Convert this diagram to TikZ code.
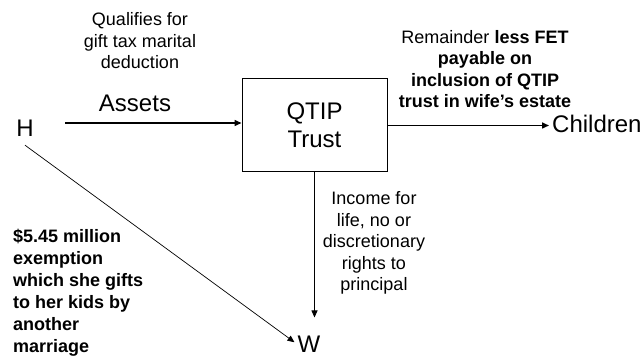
\documentclass[tikz,border=0pt]{standalone}
\usepackage{fontspec}
\setmainfont{Liberation Sans}
\usetikzlibrary{arrows.meta}
\begin{document}
\begin{tikzpicture}[x=1pt,y=-1pt,
  big/.style={font=\fontsize{24}{28}\selectfont, inner sep=3pt},
  note/.style={font=\fontsize{18}{21.5}\selectfont, align=center, inner sep=0pt},
  arr/.style={-{Triangle[length=7pt,width=6pt]}},
  thick arrow/.style={arr, line width=1.5pt},
  thin arrow/.style={arr, line width=0.8pt}
]
\useasboundingbox (0,0) rectangle (643,358);
\node[draw, line width=1pt, minimum width=145pt, minimum height=93pt, big, align=center] (box) at (314.5,125.5) {QTIP\\Trust};
\node[big, anchor=base] (H) at (25,137) {H};
\node[big, anchor=base west] (C) at (549,133) {Children};
\node[big, anchor=base, inner sep=1pt] (W) at (309,352.5) {W};
\node[big, anchor=base] (assets) at (135,112) {Assets};
\node[note] (qual) at (140,41) {Qualifies for\\gift tax marital\\deduction};
\node[note] (rem) at (485,69) {Remainder \textbf{less FET}\\\textbf{payable on}\\\textbf{inclusion of QTIP}\\\textbf{trust in wife’s estate}};
\node[note] (inc) at (374,243) {Income for\\life, no or\\discretionary\\rights to\\principal};
\node[note, align=left, anchor=west, font=\fontsize{18}{22}\selectfont\bfseries] (ex) at (13,293) {\$5.45 million\\exemption\\which she gifts\\to her kids by\\another\\marriage};
\coordinate (a1) at (65,123);
\draw[thick arrow] (a1) -- (a1 -| box.west);
\draw[thick arrow] (box.east) -- (box.east -| C.west);
\draw[thin arrow] (box.south) -- ++(0,145);
\draw[arr, line width=0.7pt] ([yshift=-5pt]H.south) -- ([xshift=-2pt,yshift=2pt]W.west);
\end{tikzpicture}
\end{document}
